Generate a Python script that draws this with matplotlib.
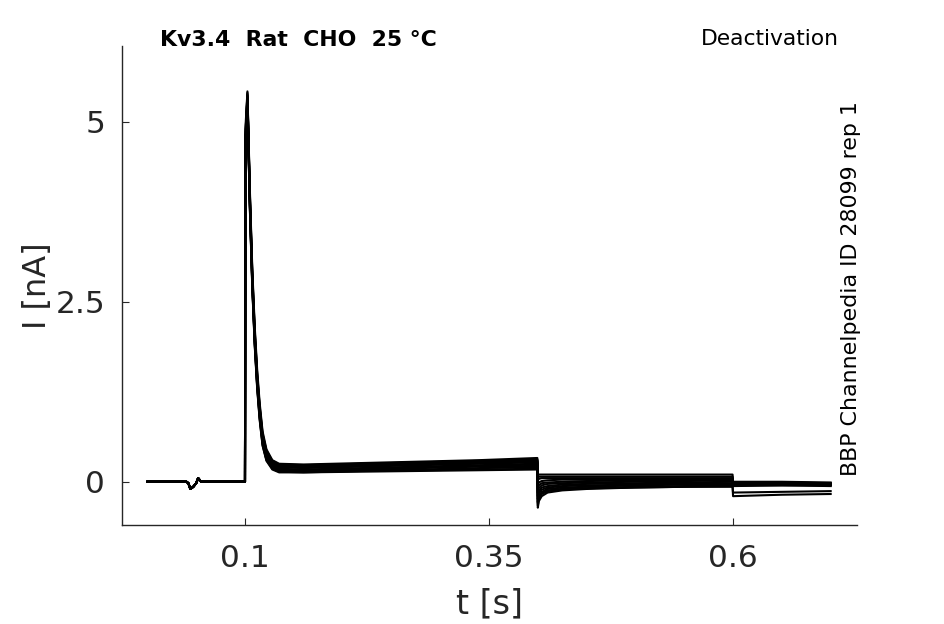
import matplotlib
matplotlib.use("Agg")
from matplotlib import pyplot as plt

# baseline before the step (shared by all sweeps)
base_t = [0.000, 0.040, 0.042, 0.044, 0.047, 0.050, 0.052, 0.055, 0.0999]
base_i = [0.00, 0.00, -0.02, -0.10, -0.07, -0.02, 0.05, 0.00, 0.00]

# activation step: fast transient then sustained current
act_t = [0.1000, 0.1004, 0.1025, 0.1050, 0.1075, 0.1100, 0.1125, 0.1150,
         0.1180, 0.1220, 0.1280, 0.1350, 0.1600, 0.2200, 0.2800, 0.3400, 0.3995]
act_i = [
    [0.0, 4.9, 5.42, 4.05, 2.95, 2.15, 1.55, 1.10, 0.70, 0.45, 0.30, 0.25, 0.24, 0.26, 0.28, 0.30, 0.33],
    [0.0, 4.8, 5.40, 4.00, 2.90, 2.10, 1.50, 1.06, 0.67, 0.43, 0.29, 0.24, 0.23, 0.25, 0.27, 0.29, 0.31],
    [0.0, 4.8, 5.38, 3.98, 2.88, 2.08, 1.48, 1.04, 0.65, 0.42, 0.28, 0.23, 0.22, 0.24, 0.26, 0.28, 0.30],
    [0.0, 4.7, 5.36, 3.95, 2.85, 2.05, 1.45, 1.02, 0.63, 0.40, 0.27, 0.22, 0.21, 0.23, 0.25, 0.27, 0.29],
    [0.0, 4.7, 5.35, 3.92, 2.82, 2.02, 1.43, 1.00, 0.62, 0.39, 0.26, 0.21, 0.20, 0.22, 0.24, 0.26, 0.28],
    [0.0, 4.7, 5.34, 3.90, 2.80, 2.00, 1.41, 0.98, 0.60, 0.37, 0.25, 0.20, 0.19, 0.21, 0.23, 0.25, 0.27],
    [0.0, 4.6, 5.32, 3.88, 2.78, 1.98, 1.39, 0.96, 0.58, 0.36, 0.23, 0.18, 0.17, 0.19, 0.21, 0.23, 0.25],
    [0.0, 4.6, 5.30, 3.86, 2.76, 1.96, 1.37, 0.94, 0.56, 0.34, 0.22, 0.17, 0.16, 0.18, 0.20, 0.22, 0.24],
    [0.0, 4.6, 5.28, 3.84, 2.74, 1.94, 1.35, 0.92, 0.55, 0.33, 0.20, 0.16, 0.15, 0.17, 0.19, 0.21, 0.22],
    [0.0, 4.5, 5.26, 3.82, 2.72, 1.92, 1.33, 0.90, 0.53, 0.31, 0.19, 0.15, 0.14, 0.16, 0.17, 0.19, 0.20],
    [0.0, 4.5, 5.24, 3.80, 2.70, 1.90, 1.31, 0.88, 0.51, 0.30, 0.18, 0.14, 0.13, 0.15, 0.16, 0.17, 0.18],
    [0.0, 4.5, 5.22, 3.78, 2.68, 1.88, 1.29, 0.86, 0.50, 0.29, 0.17, 0.13, 0.13, 0.14, 0.15, 0.16, 0.17],
]

# deactivation step: tail currents
deact_t = [0.4000, 0.4010, 0.4040, 0.4100, 0.4250, 0.4500, 0.5000, 0.5500, 0.5995]
deact_i = [
    [0.10, 0.10, 0.10, 0.10, 0.10, 0.10, 0.10, 0.10, 0.10],
    [0.06, 0.07, 0.07, 0.07, 0.07, 0.07, 0.07, 0.07, 0.07],
    [0.02, 0.04, 0.05, 0.05, 0.05, 0.05, 0.05, 0.05, 0.05],
    [-0.05, -0.01, 0.01, 0.02, 0.03, 0.03, 0.03, 0.03, 0.04],
    [-0.10, -0.05, -0.02, -0.01, 0.00, 0.01, 0.02, 0.02, 0.03],
    [-0.15, -0.09, -0.05, -0.03, -0.02, -0.01, 0.00, 0.01, 0.02],
    [-0.20, -0.13, -0.08, -0.06, -0.04, -0.03, -0.02, -0.01, 0.00],
    [-0.24, -0.16, -0.11, -0.08, -0.06, -0.05, -0.04, -0.02, -0.02],
    [-0.28, -0.20, -0.14, -0.10, -0.08, -0.07, -0.05, -0.04, -0.03],
    [-0.33, -0.24, -0.17, -0.13, -0.10, -0.09, -0.07, -0.06, -0.05],
    [-0.36, -0.27, -0.20, -0.15, -0.12, -0.10, -0.08, -0.07, -0.06],
    [-0.30, -0.22, -0.16, -0.12, -0.10, -0.09, -0.08, -0.07, -0.07],
]

# last step
end_t = [0.6000, 0.6500, 0.7000]
end_i = [
    [0.00, 0.00, -0.01],
    [-0.01, -0.01, -0.02],
    [-0.02, -0.02, -0.02],
    [-0.03, -0.02, -0.03],
    [-0.03, -0.03, -0.03],
    [-0.04, -0.03, -0.04],
    [-0.04, -0.04, -0.04],
    [-0.05, -0.04, -0.05],
    [-0.05, -0.05, -0.05],
    [-0.06, -0.05, -0.06],
    [-0.15, -0.14, -0.13],
    [-0.20, -0.18, -0.17],
]

xticks = [0.1, 0.35, 0.6]
xticklabels = ["0.1", "0.35", "0.6"]
yticks = [0, 2.5, 5]
yticklabels = ["0", "2.5", "5"]

fig = plt.figure(figsize=(9.45, 6.24), dpi=100)
ax = fig.add_axes([0.1291, 0.1587, 0.7778, 0.7676])

for k in range(len(act_i)):
    tt = base_t + act_t + deact_t + end_t
    ii = base_i + act_i[k] + deact_i[k] + end_i[k]
    ax.plot(tt, ii, '-k', lw=1.5)

ax.set_xlim(-0.026, 0.727)
ax.set_ylim(-0.6, 6.05)
ax.set_xticks(xticks)
ax.set_xticklabels(xticklabels)
ax.set_yticks(yticks)
ax.set_yticklabels(yticklabels)

grey = '#262626'
for s in ['top', 'right']:
    ax.spines[s].set_visible(False)
for s in ['left', 'bottom']:
    ax.spines[s].set_color(grey)
    ax.spines[s].set_linewidth(1.0)
ax.tick_params(direction='in', length=5, width=0.8, color=grey,
               labelcolor=grey, labelsize=22.5)
ax.tick_params(axis='x', pad=14)
ax.tick_params(axis='y', pad=12)

ax.set_xlabel('t [s]', fontsize=24, color=grey, labelpad=10)
ax.set_ylabel('I [nA]', fontsize=23, color=grey, labelpad=2)

fig.text(160 / 945, 1 - 40 / 624, 'Kv3.4  Rat  CHO  25 °C', fontsize=15.8,
         fontweight='bold', ha='left', va='center', color='k')
fig.text(839 / 945, 1 - 39 / 624, 'Deactivation', fontsize=15.7,
         ha='right', va='center', color='k')
fig.text(851 / 945, 1 - 476 / 624, 'BBP Channelpedia ID 28099 rep 1',
         fontsize=15.9, rotation=90, ha='center', va='bottom', color='k')

fig.savefig('out.png', dpi=100)
